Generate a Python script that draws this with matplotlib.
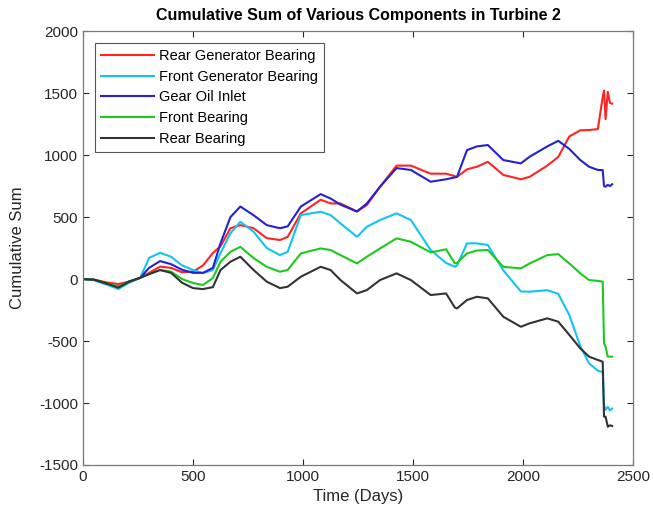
import numpy as np
import matplotlib
matplotlib.use('Agg')
import matplotlib.pyplot as plt

plt.rcParams['font.family'] = ['Liberation Sans', 'DejaVu Sans']
plt.rcParams['axes.unicode_minus'] = False

# time axis (days) shared by all sensors
days = [0, 50, 100, 160, 210, 260, 300, 350, 400, 450, 500, 545, 590, 625, 670,
        715, 775, 835, 895, 930, 990, 1080, 1125, 1170, 1245, 1290, 1350, 1425,
        1490, 1580, 1650, 1690, 1700, 1745, 1790, 1840, 1910, 1990, 2030, 2110,
        2160, 2210, 2260, 2300, 2340, 2362, 2368, 2375, 2385, 2395, 2405]

rear_gen = [0, -5, -25, -40, -20, 10, 50, 100, 90, 55, 60, 110, 210, 265, 410,
            435, 410, 330, 315, 340, 530, 640, 610, 610, 545, 597, 745, 915,
            915, 850, 850, 830, 825, 885, 906, 946, 840, 805, 825, 915,
            985, 1150, 1200, 1202, 1210, 1470, 1520, 1290, 1510, 1420, 1415]

front_gen = [0, -10, -40, -80, -30, 10, 170, 212, 180, 110, 73, 48, 73, 210, 370,
             462, 382, 250, 193, 220, 516, 543, 516, 449, 341, 422, 476, 530,
             476, 234, 130, 99, 110, 288, 288, 274, 70, -100, -102, -90,
             -120, -290, -540, -680, -740, -750, -1016, -1056, -1030, -1060, -1045]

gear_oil = [0, -5, -35, -60, -20, 10, 90, 145, 120, 75, 50, 50, 90, 290, 500,
            585, 515, 435, 410, 425, 585, 685, 650, 600, 545, 610, 745, 895,
            880, 785, 805, 820, 825, 1040, 1070, 1081, 960, 933, 987, 1070,
            1115, 1050, 960, 906, 880, 879, 750, 745, 760, 750, 765]

front_brg = [0, -5, -30, -60, -20, 10, 40, 73, 60, 0, -32, -48, 8, 140, 220,
             260, 169, 99, 59, 73, 207, 247, 234, 193, 126, 180, 247, 328,
             301, 215, 240, 126, 130, 207, 230, 234, 99, 86, 126, 193,
             201, 126, 46, -8, -15, -21, -519, -546, -626, -626, -626]

rear_brg = [0, -5, -30, -70, -20, 10, 40, 73, 50, -30, -73, -81, -65, 73, 140,
            180, 73, -21, -73, -62, 19, 99, 73, -8, -116, -89, -8, 46,
            -8, -129, -116, -230, -237, -169, -143, -156, -304, -385, -357, -317,
            -344, -450, -559, -626, -653, -667, -1110, -1110, -1191, -1180, -1185]

labels = ['Rear Generator Bearing', 'Front Generator Bearing', 'Gear Oil Inlet',
          'Front Bearing', 'Rear Bearing']
colors = ['#ff2424', '#14c4f0', '#2222d4', '#1ec81e', '#333333']

fig = plt.figure(figsize=(6.54, 5.24), dpi=100)
ax = fig.add_axes([0.127, 0.1126, 0.841, 0.828])

for y, lab, c in zip([rear_gen, front_gen, gear_oil, front_brg, rear_brg], labels, colors):
    ax.plot(days, y, color=c, lw=1.5, label=lab)

ax.set_xlim(0, 2500)
ax.set_ylim(-1500, 2000)
ax.set_xticks(np.arange(0, 2501, 500))
ax.set_yticks(np.arange(-1500, 2001, 500))
ax.tick_params(direction='in', top=True, right=True, length=4, labelsize=11,
               colors='#262626')
for s in ax.spines.values():
    s.set_color('#7a7a7a')
    s.set_linewidth(0.9)

ax.set_title('Cumulative Sum of Various Components in Turbine 2', fontsize=11.5,
             fontweight='bold', pad=8)
ax.set_xlabel('Time (Days)', fontsize=12, color='#262626')
ax.set_ylabel('Cumulative Sum', fontsize=12, color='#262626', labelpad=10)

leg = ax.legend(loc='upper left', fontsize=10.5, handlelength=3.6, handletextpad=0.35,
                labelspacing=0.45, borderaxespad=0.8, borderpad=0.45, fancybox=False,
                framealpha=1, edgecolor='#555555')
leg.get_frame().set_linewidth(0.8)

fig.savefig('out.png', dpi=100)
